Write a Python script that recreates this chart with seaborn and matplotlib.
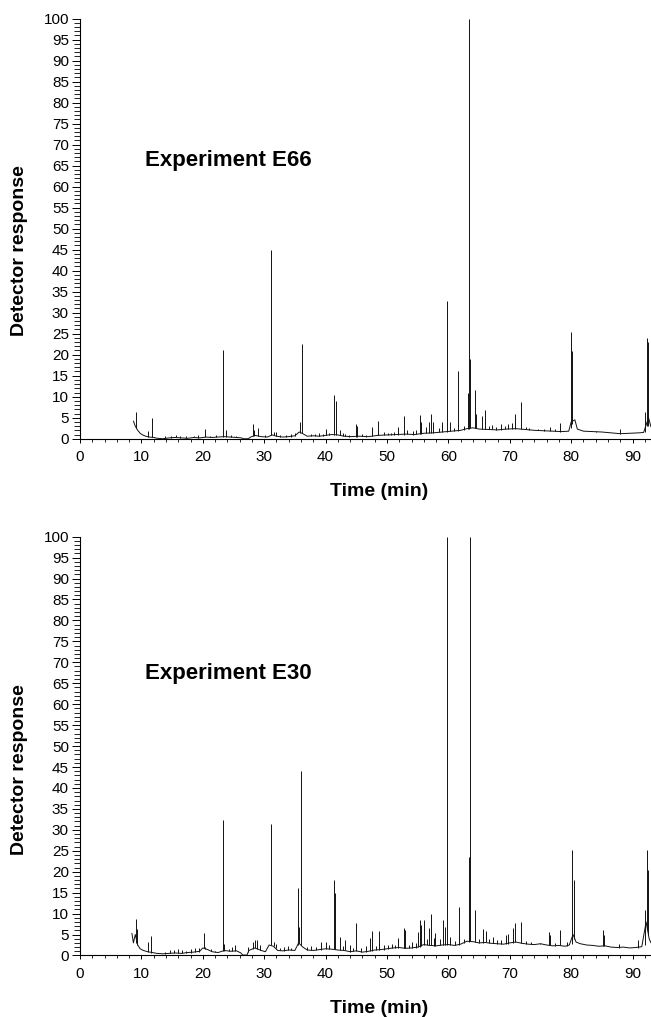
import matplotlib
matplotlib.use("Agg")
import matplotlib.pyplot as plt
from matplotlib.ticker import MultipleLocator
import seaborn as sns
import pandas as pd

# baseline of each chromatogram: (time in min, detector response)
e66_baseline = [
    (8.7, 4.2), (9.0, 3.0), (9.4, 2.0), (9.8, 1.3), (10.2, 0.9), (10.7, 0.6),
    (11.3, 0.4), (12.0, 0.3), (12.6, 0.1), (13.5, 0.0), (14.5, 0.2), (15.5, 0.3),
    (16.5, 0.2), (17.5, 0.1), (18.5, 0.3), (19.5, 0.2), (20.5, 0.4), (21.5, 0.3),
    (22.5, 0.4), (23.5, 0.5), (24.5, 0.4), (25.5, 0.3), (26.3, 0.2), (26.6, 0.0),
    (27.4, 0.0), (27.8, 0.4), (28.5, 0.8), (29.5, 0.5), (30.5, 0.4), (31.3, 0.9),
    (32.0, 0.6), (33.0, 0.4), (34.0, 0.5), (35.0, 0.7), (35.7, 1.6), (36.3, 1.2),
    (37.0, 0.6), (38.0, 0.7), (39.0, 0.6), (40.0, 0.8), (41.0, 1.0), (42.0, 0.9),
    (43.0, 0.6), (44.0, 0.5), (45.5, 0.6), (47.0, 0.5), (48.5, 0.8), (50.0, 0.9),
    (51.5, 1.0), (53.0, 1.1), (54.5, 1.0), (56.0, 1.3), (57.5, 1.4), (59.0, 1.6),
    (60.5, 1.8), (62.0, 2.0), (63.0, 2.4), (64.0, 2.6), (65.0, 2.3), (66.5, 2.2),
    (68.0, 2.1), (69.5, 2.3), (71.0, 2.4), (72.5, 2.2), (74.0, 2.0), (75.5, 1.9),
    (77.0, 1.8), (78.5, 1.7), (79.6, 1.8), (80.0, 4.0), (80.6, 4.5), (81.0, 2.3),
    (82.0, 1.8), (83.5, 1.7), (85.0, 1.6), (86.5, 1.4), (88.0, 1.2), (89.5, 1.3),
    (91.0, 1.4), (91.8, 1.5), (92.6, 5.0), (93.0, 2.8),
]

# peaks: (time, apex, foot)
e66_peaks = [
    (9.15, 6.3, 2.5), (11.05, 1.9, 0.4), (11.7, 4.9, 0.3),
    (13.8, 0.6, 0.0), (14.8, 0.7, 0.2), (15.6, 0.8, 0.3), (16.3, 0.6, 0.2),
    (17.2, 0.7, 0.1), (18.6, 0.6, 0.3), (19.3, 0.8, 0.2), (20.3, 2.2, 0.4),
    (21.2, 0.7, 0.3), (22.1, 0.8, 0.4), (23.25, 21.2, 0.5), (23.7, 2.0, 0.5),
    (24.6, 0.8, 0.4), (25.4, 0.7, 0.3), (28.1, 3.4, 0.6), (28.4, 2.0, 0.7),
    (29.0, 2.6, 0.6), (30.2, 0.9, 0.4), (31.06, 44.8, 0.9), (31.6, 1.6, 0.8),
    (32.0, 1.5, 0.6), (32.6, 1.0, 0.5), (33.5, 0.9, 0.4), (34.3, 1.1, 0.5),
    (35.0, 1.3, 0.7), (35.8, 4.0, 1.4), (36.1, 22.6, 1.4), (37.6, 1.2, 0.6),
    (38.3, 1.1, 0.7), (38.9, 1.4, 0.6), (39.5, 1.2, 0.6), (40.0, 2.4, 0.8),
    (40.6, 1.4, 0.9), (41.35, 10.4, 1.0), (41.7, 9.0, 1.0), (42.3, 2.0, 0.9),
    (42.8, 1.3, 0.7), (43.2, 1.2, 0.6), (43.8, 1.0, 0.5), (44.9, 3.6, 0.5),
    (45.1, 3.0, 0.5), (45.9, 1.2, 0.6), (46.5, 1.0, 0.5), (47.5, 2.7, 0.6),
    (48.6, 4.2, 0.8), (49.5, 1.5, 0.8), (50.1, 1.3, 0.9), (50.6, 1.4, 0.9),
    (51.2, 1.6, 1.0), (51.8, 2.9, 1.0), (52.7, 5.5, 1.0), (53.3, 2.0, 1.1),
    (54.2, 1.8, 1.0), (54.8, 2.1, 1.1), (55.3, 5.6, 1.2), (55.6, 4.0, 1.2),
    (56.3, 2.9, 1.3), (56.8, 4.0, 1.3), (57.2, 5.9, 1.4), (57.5, 4.0, 1.4),
    (58.4, 2.5, 1.5), (59.0, 4.0, 1.6), (59.8, 32.7, 1.7), (60.2, 4.0, 1.8),
    (60.9, 2.6, 1.9), (61.5, 16.0, 1.9), (62.5, 3.0, 2.1), (63.2, 11.0, 2.4),
    (63.4, 100.0, 2.4), (63.55, 19.0, 2.5), (64.3, 11.7, 2.6), (64.45, 6.0, 2.6),
    (65.4, 5.5, 2.4), (65.9, 6.8, 2.3), (66.6, 3.0, 2.2), (67.1, 3.3, 2.2),
    (67.8, 2.9, 2.1), (68.5, 3.6, 2.1), (69.3, 3.0, 2.2), (69.7, 3.6, 2.3),
    (70.4, 3.8, 2.4), (70.9, 5.8, 2.4), (71.9, 8.7, 2.3), (72.6, 2.8, 2.2),
    (73.2, 2.6, 2.1), (74.6, 2.4, 2.0), (75.6, 2.3, 1.9), (76.5, 2.9, 1.8),
    (77.3, 2.2, 1.8), (78.1, 3.8, 1.7), (79.9, 25.5, 2.5), (80.2, 20.8, 3.5),
    (84.0, 1.8, 1.6), (87.96, 2.2, 1.2), (92.0, 6.3, 1.5), (92.3, 23.9, 3.0),
    (92.45, 23.0, 3.0),
]

e30_baseline = [
    (8.45, 5.3), (8.7, 3.0), (9.0, 5.0), (9.4, 2.5), (9.8, 1.6), (10.3, 1.2),
    (11.0, 0.9), (11.8, 0.7), (12.5, 0.5), (13.5, 0.4), (14.5, 0.5), (15.5, 0.6),
    (16.5, 0.5), (17.5, 0.7), (18.5, 0.8), (19.5, 1.0), (20.0, 1.8), (20.8, 1.4),
    (21.5, 0.9), (22.5, 0.7), (23.5, 1.2), (24.5, 1.0), (25.5, 1.1), (26.2, 0.6),
    (26.5, 0.1), (27.2, 0.1), (27.5, 1.2), (28.5, 1.8), (29.5, 1.2), (30.2, 0.9),
    (30.8, 2.5), (31.5, 2.2), (32.2, 1.2), (33.0, 1.1), (34.0, 1.3), (35.0, 1.2),
    (35.6, 3.0), (36.3, 2.0), (37.0, 1.3), (38.0, 1.2), (39.0, 1.4), (40.0, 1.6),
    (41.0, 1.5), (42.0, 1.3), (43.0, 1.2), (44.0, 0.9), (45.0, 1.1), (46.0, 0.8),
    (47.0, 1.0), (48.0, 1.3), (49.0, 1.4), (50.0, 1.6), (51.0, 1.8), (52.0, 1.9),
    (53.0, 1.7), (54.0, 1.8), (55.0, 2.0), (56.0, 2.6), (57.0, 2.4), (58.0, 2.3),
    (59.0, 2.5), (60.0, 2.6), (61.0, 2.4), (62.0, 2.7), (63.0, 3.4), (64.0, 3.3),
    (65.0, 3.0), (66.0, 3.1), (67.0, 2.9), (68.0, 2.8), (69.0, 2.7), (70.0, 3.0),
    (71.0, 3.2), (72.0, 2.9), (73.0, 2.7), (74.0, 2.6), (75.0, 2.8), (76.0, 2.5),
    (77.0, 2.3), (78.0, 2.4), (79.0, 2.2), (79.7, 2.5), (80.3, 5.0), (80.8, 3.2),
    (81.5, 2.8), (82.5, 2.5), (83.5, 2.4), (84.5, 2.2), (85.5, 2.3), (86.5, 2.0),
    (87.5, 1.9), (88.5, 2.0), (89.5, 1.8), (90.5, 1.9), (91.5, 2.1), (92.2, 8.0),
    (92.7, 4.0), (93.0, 3.0),
]

e30_peaks = [
    (9.05, 8.8, 3.0), (9.3, 6.4, 2.5), (11.0, 3.3, 0.9), (11.6, 4.7, 0.7),
    (13.9, 0.9, 0.4), (14.6, 1.2, 0.5), (15.3, 1.4, 0.6), (15.9, 1.6, 0.6),
    (16.6, 1.3, 0.5), (17.3, 1.1, 0.6), (18.1, 1.5, 0.7), (18.8, 1.7, 0.8),
    (19.4, 1.9, 0.9), (20.15, 5.3, 1.8), (20.4, 2.0, 1.6), (21.3, 1.5, 1.0),
    (22.0, 1.0, 0.8), (23.25, 32.3, 1.0), (23.45, 2.8, 1.1), (24.2, 1.6, 1.0),
    (24.8, 2.0, 1.1), (25.2, 2.4, 1.1), (27.4, 2.1, 0.8), (28.1, 3.3, 1.5),
    (28.5, 3.6, 1.7), (28.9, 3.8, 1.6), (29.3, 2.5, 1.3), (31.06, 31.5, 2.4),
    (31.6, 3.2, 2.2), (31.9, 2.8, 1.8), (32.5, 1.8, 1.2), (33.2, 2.0, 1.1),
    (33.8, 2.2, 1.2), (34.4, 1.9, 1.3), (35.5, 16.2, 2.5), (35.7, 6.8, 3.0),
    (36.05, 44.0, 2.5), (37.0, 2.1, 1.3), (37.6, 2.3, 1.3), (38.4, 2.0, 1.2),
    (39.2, 3.3, 1.4), (40.0, 3.2, 1.6), (40.6, 2.6, 1.5), (41.35, 18.0, 1.5),
    (41.5, 14.8, 1.5), (42.3, 4.5, 1.3), (42.8, 2.2, 1.2), (43.2, 3.7, 1.2),
    (44.0, 2.5, 0.9), (44.5, 1.9, 1.0), (45.0, 7.8, 1.1), (45.8, 1.8, 0.8),
    (46.5, 2.2, 0.9), (47.2, 4.1, 1.0), (47.6, 5.9, 1.1), (48.2, 2.3, 1.2),
    (48.7, 5.9, 1.3), (49.5, 2.5, 1.4), (50.2, 2.6, 1.6), (50.8, 2.8, 1.7),
    (51.3, 2.4, 1.8), (51.8, 4.1, 1.9), (52.7, 6.5, 1.8), (53.0, 6.0, 1.7),
    (53.6, 2.6, 1.7), (54.1, 3.3, 1.8), (54.7, 3.0, 1.9), (55.1, 5.5, 2.0),
    (55.3, 8.5, 2.1), (55.5, 7.3, 2.2), (56.1, 8.5, 2.6), (56.5, 4.0, 2.5),
    (56.8, 6.5, 2.5), (57.2, 9.8, 2.4), (57.6, 4.2, 2.3), (57.9, 5.3, 2.3),
    (58.7, 4.0, 2.4), (59.2, 8.5, 2.5), (59.4, 6.9, 2.5), (59.8, 100.0, 2.6),
    (60.3, 4.5, 2.5), (61.0, 3.4, 2.4), (61.7, 11.6, 2.6), (62.6, 4.0, 2.9),
    (63.3, 23.6, 3.3), (63.45, 100.0, 3.4), (64.4, 10.9, 3.3), (65.0, 4.0, 3.0),
    (65.6, 6.3, 3.0), (66.1, 5.9, 3.1), (66.6, 3.9, 3.0), (67.2, 4.5, 2.9),
    (67.9, 3.6, 2.8), (68.5, 3.7, 2.8), (69.4, 4.8, 2.7), (69.7, 5.2, 2.8),
    (70.5, 6.6, 3.0), (70.8, 7.7, 3.1), (71.9, 8.0, 3.0), (72.6, 3.5, 2.8),
    (73.4, 3.3, 2.7), (74.9, 3.0, 2.7), (76.4, 5.6, 2.5), (76.6, 5.0, 2.5),
    (77.4, 2.9, 2.3), (78.1, 6.0, 2.4), (79.4, 3.3, 2.3), (80.2, 25.2, 2.8),
    (80.4, 18.0, 4.0), (85.2, 6.0, 2.3), (85.4, 4.9, 2.3), (87.8, 2.8, 1.9),
    (90.9, 3.7, 1.9), (92.0, 10.9, 2.5), (92.3, 25.2, 6.0), (92.5, 20.5, 5.0),
]

TRACE = "#111111"

sns.set_theme(style="ticks")
plt.rcParams["font.family"] = ["Liberation Sans", "DejaVu Sans"]
plt.rcParams["text.color"] = "black"
plt.rcParams["axes.labelcolor"] = "black"

fig = plt.figure(figsize=(6.51, 10.17), dpi=100)
ax_top = fig.add_axes([80 / 651, 0.5686, 1 - 80 / 651, 0.4132])
ax_bot = fig.add_axes([80 / 651, 0.0605, 1 - 80 / 651, 0.4118])


def draw(ax, baseline, peaks, title, ylab_y, title_y):
    base = pd.DataFrame(baseline, columns=["time", "response"])
    sns.lineplot(data=base, x="time", y="response", ax=ax, color=TRACE,
                 lw=0.7, estimator=None, sort=False)
    pk = pd.DataFrame(peaks, columns=["time", "top", "foot"])
    ax.vlines(pk["time"], pk["foot"], pk["top"], color=TRACE, lw=0.7)

    ax.set_xlim(0, 93)
    ax.set_ylim(0, 100)
    sns.despine(ax=ax)
    for s in ("left", "bottom"):
        ax.spines[s].set_color("black")
        ax.spines[s].set_linewidth(0.8)

    ax.xaxis.set_major_locator(MultipleLocator(10))
    ax.xaxis.set_minor_locator(MultipleLocator(2))
    ax.yaxis.set_major_locator(MultipleLocator(5))
    ax.yaxis.set_minor_locator(MultipleLocator(1))
    ax.tick_params(axis="y", which="major", length=6, width=0.7, color="black",
                   labelsize=11, labelcolor="black", pad=2)
    ax.tick_params(axis="y", which="minor", length=4, width=0.6, color="black")
    ax.tick_params(axis="x", which="major", length=3, width=0.7, color="black",
                   labelsize=11, labelcolor="black", pad=5)
    ax.tick_params(axis="x", which="minor", length=2.5, width=0.6, color="black")

    ax.set_xlabel("Time (min)", fontsize=14, fontweight="bold")
    ax.set_ylabel("Detector response", fontsize=14, fontweight="bold")
    ax.xaxis.set_label_coords(0.524, -0.106)
    ax.yaxis.set_label_coords(-0.091, ylab_y)

    ax.text(0.114, title_y, title, transform=ax.transAxes, fontsize=16,
            fontweight="bold", ha="left", va="baseline")


draw(ax_top, e66_baseline, e66_peaks, "Experiment E66", 0.447, 0.650)
draw(ax_bot, e30_baseline, e30_peaks, "Experiment E30", 0.445, 0.660)

fig.savefig("out.png", dpi=100)
